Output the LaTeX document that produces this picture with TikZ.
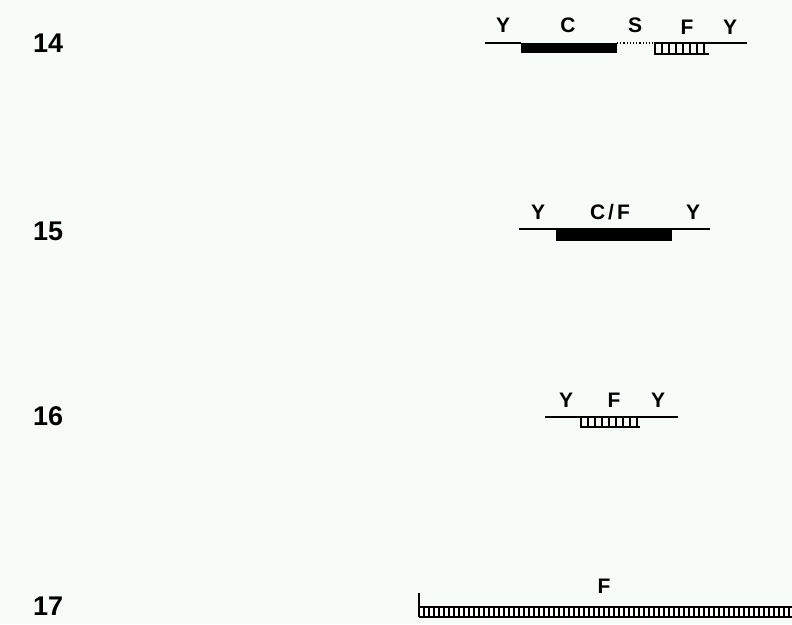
\documentclass[tikz,border=0pt]{standalone}
\usepackage{fontspec}
\setmainfont{Liberation Sans}
\definecolor{bg}{HTML}{F7FCF8}
\begin{document}
\begin{tikzpicture}[x=1pt,y=-1pt,
  lab/.style={font=\fontsize{21}{21}\selectfont\bfseries, inner sep=0pt, anchor=base},
  num/.style={font=\fontsize{27}{27}\selectfont\bfseries, inner sep=0pt, anchor=base west},
  dna/.style={line width=1.6pt},
  solid bar/.style={fill=black},
  rung/.style={line width=1.5pt}]
\fill[bg] (0,0) rectangle (792,624);
\useasboundingbox (0,0) rectangle (792,624);
% row 14
\node[num] (n14) at (33,52) {14};
\node[lab] (y14a) at (503,32) {Y};
\node[lab] (c14) at (568,32) {C};
\node[lab] (s14) at (635,32) {S};
\node[lab] (f14) at (687,34) {F};
\node[lab] (y14b) at (730,34) {Y};
\draw[dna] (485,43) -- (521,43);
\fill[solid bar] (521,42.5) rectangle (617,53);
\draw[line width=1.2pt, dotted] (617,43) -- (654,43);
\draw[dna] (654,43) -- (747,43);
\draw[rung] (654,54) -- (709,54);
\foreach \x in {655,662,...,709} \draw[rung] (\x,43) -- (\x,54);
% row 15
\node[num] (n15) at (33,240) {15};
\node[lab] (y15a) at (538,219) {Y};
\node[lab] (cf15) at (610,219) {C\kern3pt/\kern3pt F};
\node[lab] (y15b) at (693,219) {Y};
\draw[dna] (519,229) -- (710,229);
\fill[solid bar] (556,228.5) rectangle (672,241);
% row 16
\node[num] (n16) at (33,425) {16};
\node[lab] (y16a) at (566,407) {Y};
\node[lab] (f16) at (614,407) {F};
\node[lab] (y16b) at (658,407) {Y};
\draw[dna] (545,417) -- (678,417);
\draw[rung] (580,427) -- (640,427);
\foreach \x in {581,588,...,640} \draw[rung] (\x,417) -- (\x,427);
% row 17
\node[num] (n17) at (33,615) {17};
\node[lab] (f17) at (604,593) {F};
\draw[dna] (419,593) -- (419,617);
\draw[dna] (419,607) -- (792,607);
\draw[dna] (419,617) -- (792,617);
\foreach \x in {419,424,...,792} \draw[rung] (\x,607) -- (\x,617);
\end{tikzpicture}
\end{document}
